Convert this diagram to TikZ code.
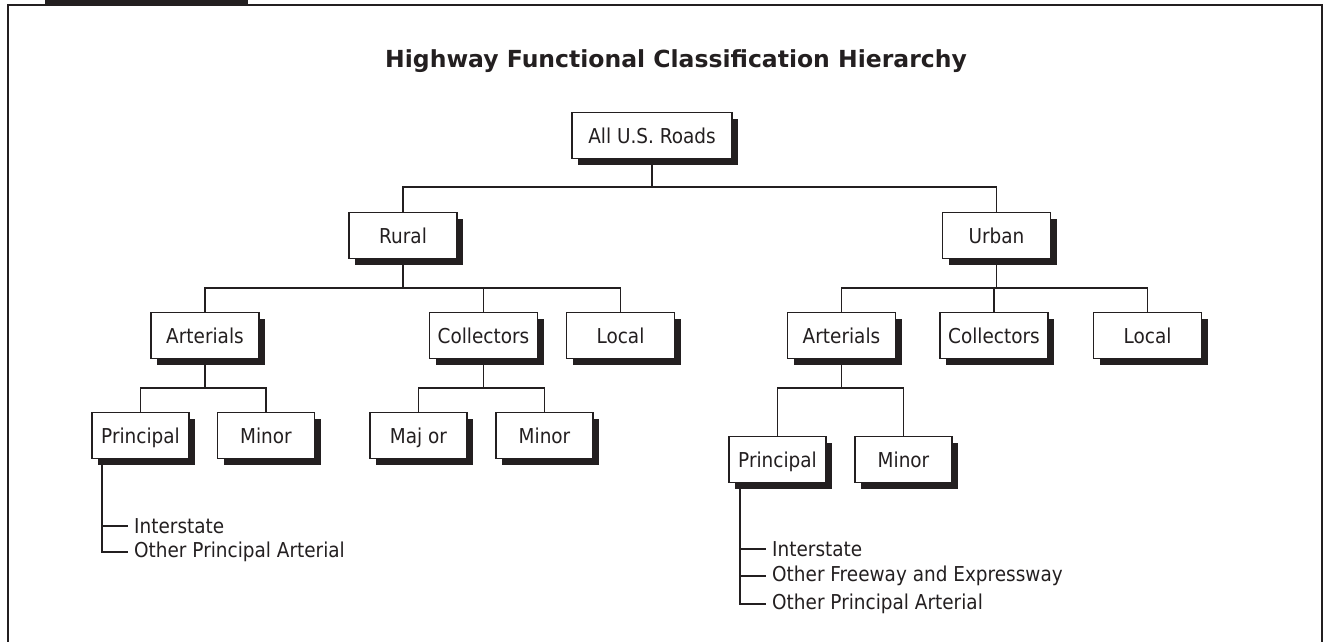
\documentclass[tikz,border=0pt]{standalone}
\usepackage{fontspec}
\setmainfont{DejaVu Sans}[FakeStretch=0.9]
\newfontfamily\titlefont{DejaVu Sans}
\usepackage{tikz}
\usetikzlibrary{positioning, shadows, calc}
\definecolor{inkcolor}{RGB}{35,31,32}

\begin{document}
\begin{tikzpicture}[x=1pt, y=-1pt, inkcolor,
    classbox/.style={draw=inkcolor, line width=1.6pt, fill=white, minimum height=46pt, inner sep=0pt,
        text height=15pt, text depth=0pt,
        font=\fontsize{20.5}{24}\selectfont,
        drop shadow={shadow xshift=6pt, shadow yshift=-6pt, fill=inkcolor, opacity=1}},
    widebox/.style={classbox, minimum width=108pt},
    narrowbox/.style={classbox, minimum width=97pt},
    link/.style={draw=inkcolor, line width=1.9pt},
    listitem/.style={anchor=west, inner xsep=6pt, inner ysep=0pt, font=\fontsize{20.5}{24}\selectfont}]
    \useasboundingbox (0,0) rectangle (1323,642);

    % Cadre et onglet
    \fill[inkcolor] (45,0) rectangle (248,6);
    \draw[inkcolor, line width=2.2pt] (8,650) -- (8,5) -- (1322,5) -- (1322,650);

    % Titre
    \node[font=\titlefont\bfseries\fontsize{23.5}{28}\selectfont] (title) at (676,61) {Highway Functional Classification Hierarchy};

    % Niveau 0
    \node[classbox, minimum width=160pt] (roads) at (652,135.5) {All U.S. Roads};

    % Niveau 1
    \node[widebox] (rural) at (403,235.5) {Rural};
    \node[widebox] (urban) at (996.5,235.5) {Urban};

    % Niveau 2 (rural)
    \node[widebox] (rarter) at (205,335.5) {Arterials};
    \node[widebox] (rcoll) at (483.5,335.5) {Collectors};
    \node[widebox] (rlocal) at (620.5,335.5) {Local};

    % Niveau 2 (urbain)
    \node[widebox] (uarter) at (841.5,335.5) {Arterials};
    \node[widebox] (ucoll) at (994,335.5) {Collectors};
    \node[widebox] (ulocal) at (1147.5,335.5) {Local};

    % Niveau 3
    \node[narrowbox] (rprin) at (140.5,435.5) {Principal};
    \node[narrowbox] (rminor) at (266,435.5) {Minor};
    \node[narrowbox] (rmajor) at (418.5,435.5) {Maj or};
    \node[narrowbox] (rcminor) at (544.5,435.5) {Minor};
    \node[narrowbox] (uprin) at (777.5,459.5) {Principal};
    \node[narrowbox] (uminor) at (903.5,459.5) {Minor};

    % Barres horizontales
    \coordinate (bus0) at (652,187);
    \coordinate (bus1) at (0,288);
    \coordinate (bus2) at (0,388);

    % Liaisons
    \foreach \c in {rural, urban}
        \draw[link] (roads.south) |- (\c.north |- bus0) -- (\c.north);
    \foreach \c in {rarter, rcoll, rlocal}
        \draw[link] (rural.south) |- (\c.north |- bus1) -- (\c.north);
    \foreach \c in {uarter, ucoll, ulocal}
        \draw[link] (urban.south) |- (\c.north |- bus1) -- (\c.north);
    \foreach \c in {rprin, rminor}
        \draw[link] (rarter.south) |- (\c.north |- bus2) -- (\c.north);
    \foreach \c in {rmajor, rcminor}
        \draw[link] (rcoll.south) |- (\c.north |- bus2) -- (\c.north);
    \foreach \c in {uprin, uminor}
        \draw[link] (uarter.south) |- (\c.north |- bus2) -- (\c.north);

    % Sous-classes (rural)
    \coordinate (rtrunk) at ($(rprin.south west)+(11,0)$);
    \node[listitem] (rint) at (128,526) {Interstate};
    \node[listitem] (ropa) at (128,552) {Other Principal Arterial};
    \foreach \c in {rint, ropa}
        \draw[link] (rtrunk) |- (\c.west);

    % Sous-classes (urbain)
    \coordinate (utrunk) at ($(uprin.south west)+(12,0)$);
    \node[listitem] (uint) at (766,549) {Interstate};
    \node[listitem] (ufwy) at (766,576) {Other Freeway and Expressway};
    \node[listitem] (uopa) at (766,604) {Other Principal Arterial};
    \foreach \c in {uint, ufwy, uopa}
        \draw[link] (utrunk) |- (\c.west);
\end{tikzpicture}
\end{document}
